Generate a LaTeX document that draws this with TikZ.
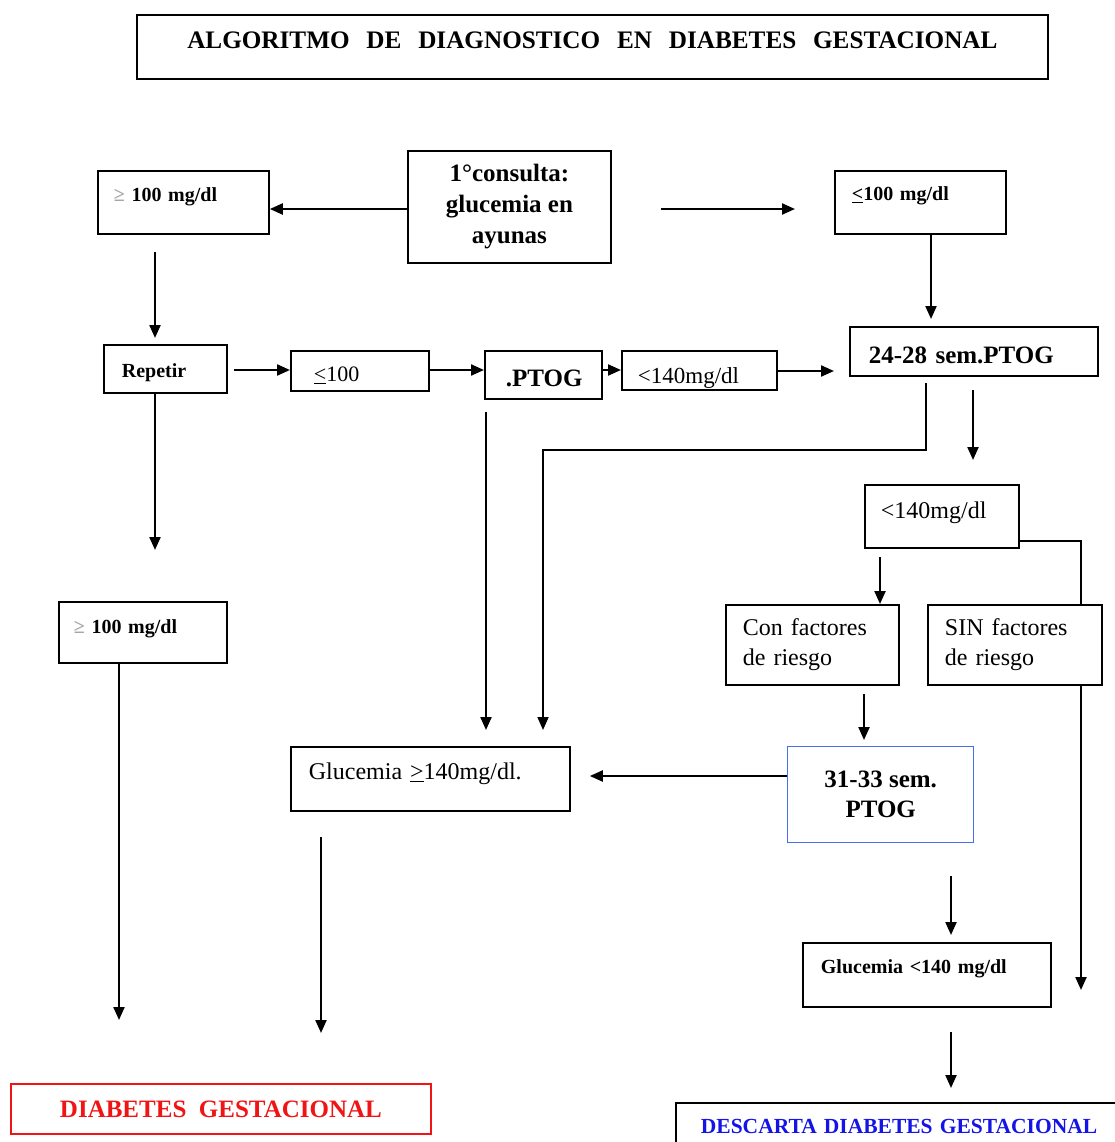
\documentclass[tikz,border=0pt]{standalone}
\usepackage{fontspec}
\setmainfont{Liberation Serif}
\usetikzlibrary{arrows.meta}
\definecolor{bluebox}{RGB}{70,110,240}
\definecolor{redx}{RGB}{240,20,20}
\definecolor{bluetext}{RGB}{20,20,230}
\newcommand\fsz[2]{\fontsize{#1}{#2}\selectfont}
\begin{document}
\begin{tikzpicture}[x=1pt,y=-1pt,
  box/.style={draw, line width=1.8pt, anchor=north west, inner sep=0pt, fill=white, align=left},
  arr/.style={line width=2.2pt, -{Triangle[length=13pt,width=11pt]}},
  ln/.style={line width=1.8pt}]
\useasboundingbox (0,0) rectangle (1114,1142);

\node[box, text width=911pt, align=center, text height=33.5pt, text depth=30.5pt, font=\bfseries\fsz{25.2}{29}] (title) at (136,14) {ALGORITMO\ \ DE\ \ DIAGNOSTICO\ \ EN\ \ DIABETES\ \ GESTACIONAL};

\node[box, inner xsep=16pt, text width=139pt, text height=31pt, text depth=32pt, font=\bfseries\fsz{20}{24}] (b1) at (97,170) {{\color{gray!70}≥} 100 mg/dl};

\node[box, minimum width=203pt, minimum height=112pt, align=center, font=\bfseries\fsz{25}{31}] (consulta) at (407,150) {1°consulta:\\glucemia en\\ayunas};

\node[box, inner xsep=17pt, text width=137pt, text height=30pt, text depth=33pt, font=\bfseries\fsz{20}{24}] (b3) at (834,170) {\underline{<}100 mg/dl};

\node[box, inner xsep=18pt, text width=87pt, text height=33pt, text depth=15pt, font=\bfseries\fsz{20}{24}] (repetir) at (103,344) {Repetir};

\node[box, inner xsep=23pt, text width=92pt, text height=31pt, text depth=9pt, font=\fsz{22}{26}] (le100) at (290,350) {\underline{<}100};

\node[box, inner xsep=21pt, text width=75pt, text height=36pt, text depth=12pt, font=\bfseries\fsz{25}{30}] (ptog) at (484,350) {.PTOG};

\node[box, inner xsep=16pt, text width=123pt, text height=33pt, text depth=6pt, font=\fsz{23}{27}] (lt140a) at (621,350) {<140mg/dl};

\node[box, inner xsep=19pt, text width=210pt, text height=37pt, text depth=12pt, font=\bfseries\fsz{25}{30}] (s2428) at (849,326) {24-28 sem.PTOG};

\node[box, inner xsep=16pt, text width=122pt, text height=34pt, text depth=29pt, font=\fsz{24}{29}] (lt140b) at (864,484) {<140mg/dl};

\node[box, inner xsep=17pt, text width=139pt, minimum height=80pt, font=\fsz{24}{30}] (con) at (725,604) {Con factores\\de riesgo};

\node[box, inner xsep=17pt, text width=140pt, minimum height=80pt, font=\fsz{24}{30}] (sin) at (927,604) {SIN factores\\de riesgo};

\node[box, inner xsep=18pt, text width=243pt, text height=33pt, text depth=31pt, font=\fsz{24}{29}] (gluc) at (290,746) {Glucemia \underline{>}140mg/dl.};

\node[box, draw=bluebox, line width=1.4pt, minimum width=186pt, minimum height=96pt, align=center, font=\bfseries\fsz{25}{30}] (s3133) at (787,746) {31-33 sem.\\PTOG};

\node[box, inner xsep=15pt, text width=138pt, text height=32pt, text depth=29pt, font=\bfseries\fsz{20}{24}] (b4) at (58,601) {{\color{gray!70}≥} 100 mg/dl};

\node[box, inner xsep=18pt, text width=212pt, text height=31pt, text depth=33pt, font=\bfseries\fsz{20}{24}] (gl140) at (802,942) {Glucemia <140 mg/dl};

\node[box, draw=redx, text=redx, minimum width=420pt, minimum height=50pt, align=center, font=\bfseries\fsz{25}{30}] (diab) at (10,1083) {DIABETES\ \ GESTACIONAL};

\node[box, inner xsep=25pt, text width=400pt, text height=31pt, text depth=29pt, text=bluetext, font=\bfseries\fsz{21.5}{26}] (desc) at (675,1102) {DESCARTA DIABETES GESTACIONAL};

\coordinate (sinend) at (1081,990);

% connectors
\draw[arr] (consulta.west |- 0,209) -- (b1.east |- 0,209);
\draw[arr, shorten <=49pt, shorten >=39pt] (consulta.east |- 0,209) -- (b3.west |- 0,209);
\draw[arr, shorten >=7pt] (b3.south -| 931,0) -- (s2428.north -| 931,0);
\draw[arr, shorten <=17pt, shorten >=6pt] (b1.south -| 155,0) -- (repetir.north -| 155,0);
\draw[arr, shorten <=6pt] (repetir.east |- 0,370) -- (le100.west |- 0,370);
\draw[arr] (le100.east |- 0,370) -- (ptog.west |- 0,370);
\draw[arr] (ptog.east |- 0,370) -- (lt140a.west |- 0,370);
\draw[arr, shorten >=15pt] (lt140a.east |- 0,371) -- (s2428.west |- 0,371);
\draw[arr, shorten <=13pt, shorten >=24pt] (s2428.south -| 973,0) -- (lt140b.north -| 973,0);
\draw[arr, line width=1.8pt, shorten <=6pt, shorten >=16pt] (s2428.south -| 926,0) -- (926,450) -- (543,450) -- (gluc.north -| 543,0);
\draw[arr, shorten <=12pt, shorten >=16pt] (ptog.south -| 486,0) -- (gluc.north -| 486,0);
\draw[arr, shorten >=51pt] (repetir.south -| 155,0) -- (b4.north -| 155,0);
\draw[arr, shorten >=63pt] (b4.south -| 119,0) -- (diab.north -| 119,0);
\draw[arr, shorten <=8pt] (lt140b.south -| 880,0) -- (con.north -| 880,0);
\draw[ln] (lt140b.east |- 0,541) -| (sin.north -| 1081,0);
\draw[arr] (sin.south -| 1081,0) -- (sinend);
\draw[arr, shorten <=8pt, shorten >=6pt] (con.south -| 864,0) -- (s3133.north -| 864,0);
\draw[arr, shorten >=19pt] (s3133.west |- 0,776) -- (gluc.east |- 0,776);
\draw[arr, shorten <=25pt, shorten >=50pt] (gluc.south -| 321,0) -- (diab.north -| 321,0);
\draw[arr, shorten <=33pt, shorten >=7pt] (s3133.south -| 951,0) -- (gl140.north -| 951,0);
\draw[arr, shorten <=24pt, shorten >=14pt] (gl140.south -| 951,0) -- (desc.north -| 951,0);
\end{tikzpicture}
\end{document}
